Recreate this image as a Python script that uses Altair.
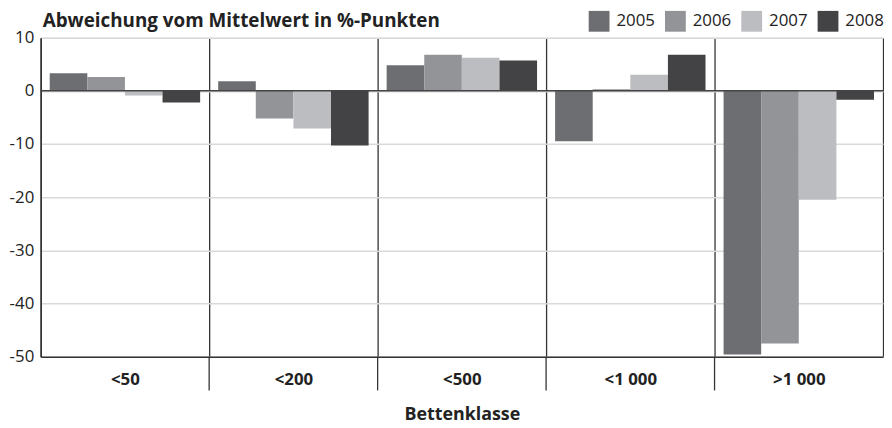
import altair as alt
import pandas as pd

categories = ["<50", "<200", "<500", "<1 000", ">1 000"]
years = ["2005", "2006", "2007", "2008"]
v2005 = [3.3, 1.8, 4.8, -9.5, -49.6]
v2006 = [2.6, -5.2, 6.8, 0.3, -47.5]
v2007 = [-0.9, -7.1, 6.2, 3.0, -20.5]
v2008 = [-2.2, -10.3, 5.7, 6.8, -1.7]
colors = ["#6d6e72", "#939497", "#bcbdc0", "#434345"]
title_text = ["Abweichung vom Mittelwert in %-Punkten"]

rows = []
for y, vals in zip(years, [v2005, v2006, v2007, v2008]):
    for c, v in zip(categories, vals):
        rows.append({"Bettenklasse": c, "Jahr": y, "Wert": v})
df = pd.DataFrame(rows)

FONT = "Open Sans"
TXT = "#222222"
DARK = "#333333"

xscale = alt.Scale(paddingInner=0, paddingOuter=0)

bars = alt.Chart(df).mark_bar().encode(
    x=alt.X("Bettenklasse:N", sort=categories, title="Bettenklasse", scale=xscale,
            axis=alt.Axis(tickBand="extent", grid=True, gridColor=DARK, gridWidth=1.3,
                          ticks=False,
                          domainColor=DARK, domainWidth=1.5,
                          labelFontSize=17, labelFontWeight="bold", labelColor=TXT,
                          labelPadding=15, labelAngle=0, titleFontSize=18, titleFontWeight="bold",
                          titleColor=TXT, titlePadding=18, labelFont=FONT, titleFont=FONT)),
    xOffset=alt.XOffset("Jahr:N", sort=years, scale=alt.Scale(paddingInner=0, paddingOuter=0.24)),
    y=alt.Y("Wert:Q", title=None,
            scale=alt.Scale(domain=[-50, 10], nice=False),
            axis=alt.Axis(values=[10, 0, -10, -20, -30, -40, -50], ticks=False,
                          gridColor="#d9d9d9", gridWidth=1.5,
                          domainColor=DARK, domainWidth=1.5,
                          labelFontSize=17, labelColor=TXT, labelPadding=7, labelFont=FONT,
                          labelExpr="datum.value < 0 ? '-' + abs(datum.value) : '' + datum.value")),
    color=alt.Color("Jahr:N", sort=years, scale=alt.Scale(domain=years, range=colors),
                    legend=alt.Legend(title=None, orient="none", legendX=553, legendY=-27,
                                      direction="horizontal", gridAlign="none",
                                      symbolType="square", symbolSize=441,
                                      symbolStrokeWidth=0, symbolOpacity=1, labelFontSize=17,
                                      labelFont=FONT, labelColor=TXT, columnPadding=10,
                                      labelOffset=7, padding=0)),
)

# separator extensions below the plot, at the left edge of each inner class
seps = alt.Chart(pd.DataFrame({"Bettenklasse": categories[1:]})).mark_rule(
    color=DARK, strokeWidth=1.3
).encode(
    x=alt.X("Bettenklasse:N", sort=categories, bandPosition=0, scale=xscale),
    y=alt.value(322), y2=alt.value(356),
)

zero = alt.Chart(pd.DataFrame({"z": [0]})).mark_rule(color="#444444", strokeWidth=1.5).encode(
    y="z:Q"
)

title = alt.Chart(pd.DataFrame({"t": title_text})).mark_text(
    align="left", baseline="alphabetic", fontSize=19, fontWeight="bold", font=FONT, color=TXT
).encode(text="t:N", x=alt.value(2), y=alt.value(-11))

chart = alt.layer(bars, seps, zero, title).properties(
    width=850, height=322,
    autosize=alt.AutoSizeParams(type="none"),
    padding={"left": 33, "top": 28, "right": 1, "bottom": 70},
).configure_view(stroke=DARK, strokeWidth=1.5).configure(background="white")

chart.save("out.html", embed_options={"renderer": "svg", "actions": False})
